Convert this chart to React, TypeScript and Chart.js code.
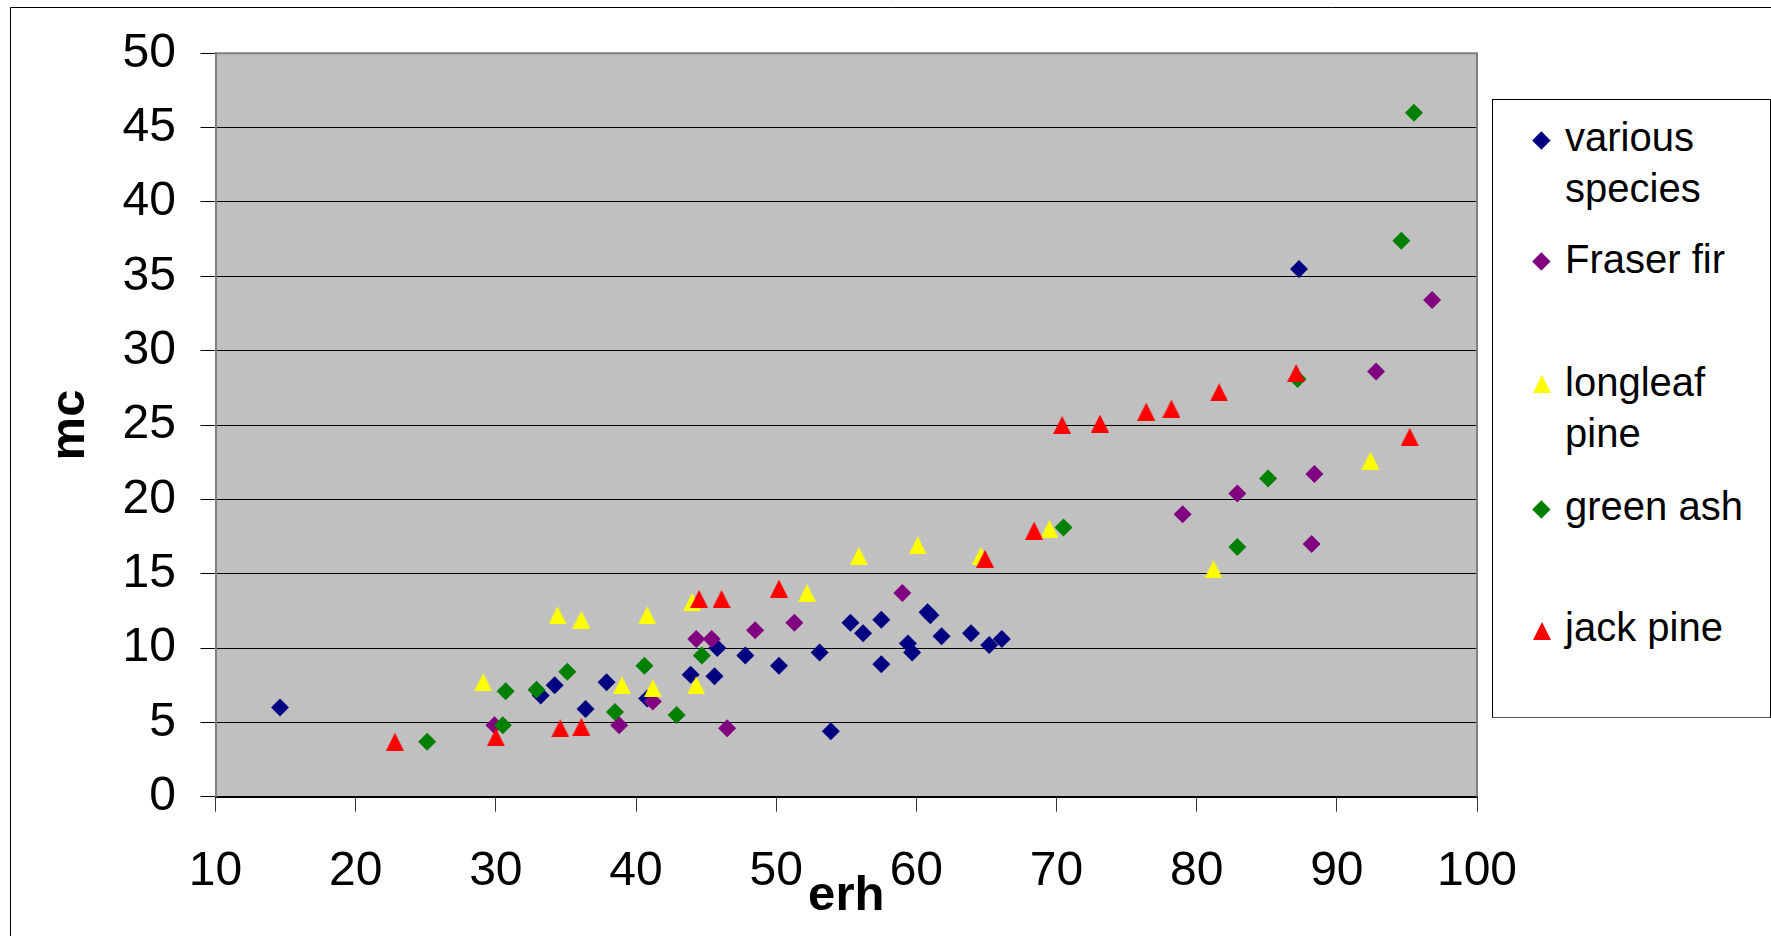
import { useEffect, useRef } from 'react';
import { Chart, registerables } from 'chart.js';

Chart.register(...registerables);

// ---------- data ----------
const seriesNames = ['various species', 'Fraser fir', 'longleaf pine', 'green ash', 'jack pine'];
const legendLines = [['various', 'species'], ['Fraser fir'], ['longleaf', 'pine'], ['green ash'], ['jack pine']];

const variousErh = [14.6, 33.2, 34.2, 36.4, 37.9, 40.8, 43.9, 45.6, 45.8, 47.8, 50.2, 53.1, 53.9, 55.3, 56.2, 57.5, 57.5, 59.4, 59.7, 60.8, 61.0, 61.8, 63.9, 65.2, 66.1, 87.3];
const variousMc = [6.0, 6.8, 7.5, 5.9, 7.7, 6.6, 8.2, 8.1, 10.0, 9.5, 8.8, 9.7, 4.4, 11.7, 11.0, 11.9, 8.9, 10.3, 9.7, 12.4, 12.2, 10.8, 11.0, 10.2, 10.6, 35.5];

const fraserErh = [29.9, 38.8, 41.2, 44.3, 45.4, 46.5, 48.5, 51.3, 59.0, 79.0, 82.9, 88.4, 88.2, 92.8, 96.8];
const fraserMc = [4.8, 4.8, 6.4, 10.6, 10.6, 4.6, 11.2, 11.7, 13.7, 19.0, 20.4, 21.7, 17.0, 28.6, 33.4];

const longleafErh = [29.1, 34.4, 36.1, 39.0, 40.8, 41.2, 44.0, 44.3, 52.2, 55.9, 60.1, 64.6, 69.5, 81.2, 92.4];
const longleafMc = [7.7, 12.2, 11.9, 7.5, 12.2, 7.3, 13.1, 7.5, 13.7, 16.2, 16.9, 16.2, 18.0, 15.3, 22.6];

const greenAshErh = [25.1, 30.7, 30.5, 32.9, 35.1, 38.5, 40.6, 42.9, 44.7, 70.5, 82.9, 85.1, 87.2, 94.6, 95.5];
const greenAshMc = [3.7, 7.1, 4.8, 7.2, 8.4, 5.7, 8.8, 5.5, 9.5, 18.1, 16.8, 21.4, 28.1, 37.4, 46.0];

const jackPineErh = [22.8, 30.0, 34.6, 36.1, 44.5, 46.1, 50.2, 64.9, 68.4, 70.4, 73.1, 76.4, 78.2, 81.6, 87.1, 95.2];
const jackPineMc = [3.7, 4.0, 4.6, 4.7, 13.3, 13.3, 14.0, 16.0, 17.9, 25.0, 25.1, 25.9, 26.1, 27.2, 28.5, 24.2];

const xTickMin = 10;
const xTickMax = 100;
const xTickStep = 10;
const yTickMin = 0;
const yTickMax = 50;
const yTickStep = 5;

// ---------- styles ----------
const FONT = '"Liberation Sans", Arial, Helvetica, sans-serif';
const seriesColors = ['#000080', '#800080', '#FFFF00', '#008000', '#FF0000'];
const seriesShapes = ['diamond', 'diamond', 'triangle', 'diamond', 'triangle'];
const PLOT_BG = '#C0C0C0';

const W = 1771;
const H = 936;

// legend layout (pixels)
const LEGEND_BOX = { left: 1492, top: 99, width: 279, height: 619 };
const LEGEND_MARKER_X = 1541.7;
const LEGEND_TEXT_X = 1565;
const LEGEND_MARKER_Y = [140.3, 261.7, 384.3, 509, 631];
const LEGEND_TEXT_TOP = [112.3, 234, 357.3, 480.7, 602.3];

function makeTriangle(color: string): HTMLCanvasElement {
  const c = document.createElement('canvas');
  c.width = 18;
  c.height = 18;
  const g = c.getContext('2d')!;
  g.fillStyle = color;
  g.beginPath();
  g.moveTo(9, 0);
  g.lineTo(18, 18);
  g.lineTo(0, 18);
  g.closePath();
  g.fill();
  return c;
}

const framePlugin = {
  id: 'excelFrame',
  beforeDraw(chart: any) {
    const { ctx, chartArea } = chart;
    ctx.save();
    ctx.fillStyle = '#ffffff';
    ctx.fillRect(0, 0, chart.width, chart.height);
    ctx.strokeStyle = '#000000';
    ctx.lineWidth = 1;
    ctx.beginPath();
    ctx.moveTo(10.5, chart.height + 5);
    ctx.lineTo(10.5, 7.5);
    ctx.lineTo(chart.width + 5, 7.5);
    ctx.stroke();
    ctx.fillStyle = PLOT_BG;
    ctx.fillRect(chartArea.left, chartArea.top, chartArea.right - chartArea.left, chartArea.bottom - chartArea.top);
    ctx.restore();
  },
  beforeDatasetsDraw(chart: any) {
    const { ctx, chartArea } = chart;
    ctx.save();
    ctx.strokeStyle = '#808080';
    ctx.lineWidth = 2;
    ctx.beginPath();
    ctx.moveTo(chartArea.left, chartArea.top);
    ctx.lineTo(chartArea.right, chartArea.top);
    ctx.lineTo(chartArea.right, chartArea.bottom);
    ctx.stroke();
    ctx.restore();
  },
};

export default function App() {
  const canvasRef = useRef<HTMLCanvasElement | null>(null);

  useEffect(() => {
    document.body.style.margin = '0';
    document.body.style.overflow = 'hidden';
    const canvas = canvasRef.current;
    if (!canvas) return;

    const erhs = [variousErh, fraserErh, longleafErh, greenAshErh, jackPineErh];
    const mcs = [variousMc, fraserMc, longleafMc, greenAshMc, jackPineMc];

    const datasets = seriesNames.map((name, i) => ({
      label: name,
      data: erhs[i].map((x, j) => ({ x, y: mcs[i][j] })),
      pointStyle: seriesShapes[i] === 'triangle' ? makeTriangle(seriesColors[i]) : 'rectRot',
      pointRadius: 9,
      pointHoverRadius: 9,
      pointBorderWidth: 0,
      backgroundColor: seriesColors[i],
      borderColor: seriesColors[i],
      showLine: false,
      order: seriesNames.length - i,
    }));

    const chart = new Chart(canvas, {
      type: 'scatter',
      data: { datasets },
      plugins: [framePlugin],
      options: {
        animation: false,
        responsive: true,
        maintainAspectRatio: false,
        layout: { padding: { left: 0, top: 52.7, right: 294, bottom: 0 } },
        plugins: {
          legend: { display: false },
          tooltip: { enabled: false },
        },
        events: [],
        scales: {
          x: {
            type: 'linear',
            position: 'bottom',
            min: xTickMin,
            max: xTickMax,
            ticks: {
              stepSize: xTickStep,
              autoSkip: false,
              maxRotation: 0,
              padding: 31.2,
              color: '#000',
              font: { family: FONT, size: 48 },
            },
            grid: {
              drawOnChartArea: false,
              drawTicks: true,
              tickLength: 15,
              tickColor: '#333',
              lineWidth: 1,
            },
            border: { display: true, color: '#000', width: 2 },
            title: {
              display: true,
              text: 'erh',
              color: '#000',
              font: { family: FONT, size: 49, weight: 'bold' },
              padding: { top: 0, bottom: 10.6 },
            },
            afterFit: (scale: any) => {
              scale.height = 139.3;
            },
          },
          y: {
            type: 'linear',
            position: 'left',
            min: yTickMin,
            max: yTickMax,
            ticks: {
              stepSize: yTickStep,
              padding: 24.5,
              color: '#000',
              font: { family: FONT, size: 48 },
            },
            grid: {
              drawOnChartArea: true,
              drawTicks: true,
              tickLength: 15,
              color: (c: any) => (c.tick && (c.tick.value === yTickMax || c.tick.value === yTickMin) ? 'rgba(0,0,0,0)' : '#000'),
              tickColor: '#000',
              lineWidth: 1,
            },
            border: { display: true, color: '#808080', width: 2 },
            title: {
              display: true,
              text: 'mc',
              color: '#000',
              font: { family: FONT, size: 49, weight: 'bold' },
              padding: { top: 40.6, bottom: 0 },
            },
            afterFit: (scale: any) => {
              scale.width = 215.5;
            },
          },
        },
      } as any,
    });

    return () => {
      chart.destroy();
    };
  }, []);

  return (
    <div style={{ position: 'absolute', left: 0, top: 0, width: W, height: H, overflow: 'hidden', background: '#fff' }}>
      <div style={{ position: 'absolute', left: 0, top: 0, width: W, height: H }}>
        <canvas ref={canvasRef} />
      </div>
      <div
        style={{
          position: 'absolute',
          left: LEGEND_BOX.left,
          top: LEGEND_BOX.top,
          width: LEGEND_BOX.width,
          height: LEGEND_BOX.height,
          boxSizing: 'border-box',
          border: '1px solid #000',
          borderBottomColor: '#555',
          background: '#fff',
        }}
      />
      {seriesNames.map((name, i) => {
        const color = seriesColors[i];
        const my = LEGEND_MARKER_Y[i];
        const marker =
          seriesShapes[i] === 'triangle' ? (
            <div
              key={name + '-m'}
              style={{
                position: 'absolute',
                left: LEGEND_MARKER_X - 9,
                top: my - 9,
                width: 0,
                height: 0,
                borderLeft: '9px solid transparent',
                borderRight: '9px solid transparent',
                borderBottom: `18px solid ${color}`,
              }}
            />
          ) : (
            <div
              key={name + '-m'}
              style={{
                position: 'absolute',
                left: LEGEND_MARKER_X - 6.36,
                top: my - 6.36,
                width: 12.73,
                height: 12.73,
                background: color,
                transform: 'rotate(45deg)',
              }}
            />
          );
        return [
          marker,
          <div
            key={name + '-t'}
            style={{
              position: 'absolute',
              left: LEGEND_TEXT_X,
              top: LEGEND_TEXT_TOP[i],
              fontFamily: FONT,
              fontSize: 40,
              lineHeight: '51px',
              color: '#000',
              whiteSpace: 'nowrap',
            }}
          >
            {legendLines[i].map((line, k) => (
              <div key={k}>{line}</div>
            ))}
          </div>,
        ];
      })}
    </div>
  );
}
